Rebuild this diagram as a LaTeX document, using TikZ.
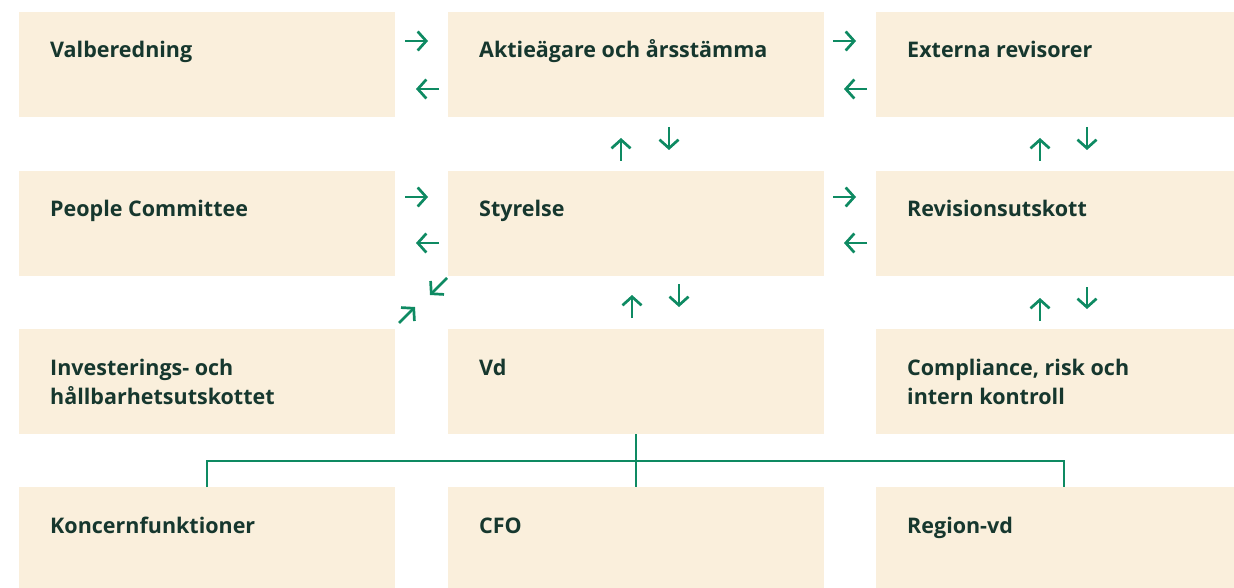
\documentclass[tikz,border=0pt]{standalone}
\usepackage{fontspec}
\setmainfont{Open Sans}
\usetikzlibrary{arrows.meta,calc}
\definecolor{sand}{HTML}{FAEFDC}
\definecolor{ink}{HTML}{16372E}
\definecolor{leaf}{HTML}{0E8A62}
\tikzset{
    box/.style={fill=sand, anchor=north west, inner sep=0pt,
        minimum width=376pt, minimum height=105pt},
    txt/.style={anchor=base west, align=left, inner sep=0pt, text=ink,
        font=\fontsize{21.5}{29}\selectfont\bfseries},
    flow/.style={draw=leaf, line width=2.7pt,
        -{Straight Barb[length=8.5pt,width=19pt]}},
    tree/.style={draw=leaf, line width=2pt}
}
\begin{document}
\begin{tikzpicture}[x=1pt, y=-1pt]
    \useasboundingbox (0,0) rectangle (1234,588);
    \clip (0,0) rectangle (1234,588);
    % boxes
    \node[box] (valb)   at (19,12)   {};
    \node[box] (agm)    at (448,12)  {};
    \node[box] (ext)    at (876,12)  {};
    \node[box] (people) at (19,171)  {};
    \node[box] (board)  at (448,171) {};
    \node[box] (audit)  at (876,171) {};
    \node[box] (invest) at (19,329)  {};
    \node[box] (ceo)    at (448,329) {};
    \node[box] (comp)   at (876,329) {};
    \node[box] (group)  at (19,487)  {};
    \node[box] (cfo)    at (448,487) {};
    \node[box] (region) at (876,487) {};
    % texts (base of a two-line node is its last line)
    \node[txt] (valbT)   at ($(valb.north west)+(31,46)$)   {Valberedning};
    \node[txt] (agmT)    at ($(agm.north west)+(31,46)$)    {Aktieägare och årsstämma};
    \node[txt] (extT)    at ($(ext.north west)+(31,46)$)    {Externa revisorer};
    \node[txt] (peopleT) at ($(people.north west)+(31,46)$) {People Committee};
    \node[txt] (boardT)  at ($(board.north west)+(31,46)$)  {Styrelse};
    \node[txt] (auditT)  at ($(audit.north west)+(31,46)$)  {Revisionsutskott};
    \node[txt] (investT) at ($(invest.north west)+(31,75)$) {Investerings- och\\hållbarhetsutskottet};
    \node[txt] (ceoT)    at ($(ceo.north west)+(31,46)$)    {Vd};
    \node[txt] (compT)   at ($(comp.north west)+(31,75)$)   {Compliance, risk och\\intern kontroll};
    \node[txt] (groupT)  at ($(group.north west)+(31,46)$)  {Koncernfunktioner};
    \node[txt] (cfoT)    at ($(cfo.north west)+(31,46)$)    {CFO};
    \node[txt] (regionT) at ($(region.north west)+(31,46)$) {Region-vd};
    % horizontal arrows
    \draw[flow] (405,41) -- (428,41);
    \draw[flow] (439,89) -- (416,89);
    \draw[flow] (833,41) -- (856,41);
    \draw[flow] (867,89) -- (844,89);
    \draw[flow] (405,197) -- (428,197);
    \draw[flow] (439,243) -- (416,243);
    \draw[flow] (833,197) -- (856,197);
    \draw[flow] (867,243) -- (844,243);
    % vertical arrows
    \draw[flow] (621,161) -- (621,138);
    \draw[flow] (669,127) -- (669,150);
    \draw[flow] (1040,161) -- (1040,138);
    \draw[flow] (1087,127) -- (1087,150);
    \draw[flow] (632,318) -- (632,295);
    \draw[flow] (679,284) -- (679,307);
    \draw[flow] (1040,321) -- (1040,298);
    \draw[flow] (1087,287) -- (1087,309);
    % diagonal arrows
    \draw[flow] (447,278) -- (430,295);
    \draw[flow] (399,323) -- (415,307);
    % tree
    \coordinate (fork) at ($(ceo.south)!0.5!(cfo.north)$);
    \draw[tree] (ceo.south) -- (cfo.north);
    \draw[tree] (group.north) |- (fork) -| (region.north);
\end{tikzpicture}
\end{document}
